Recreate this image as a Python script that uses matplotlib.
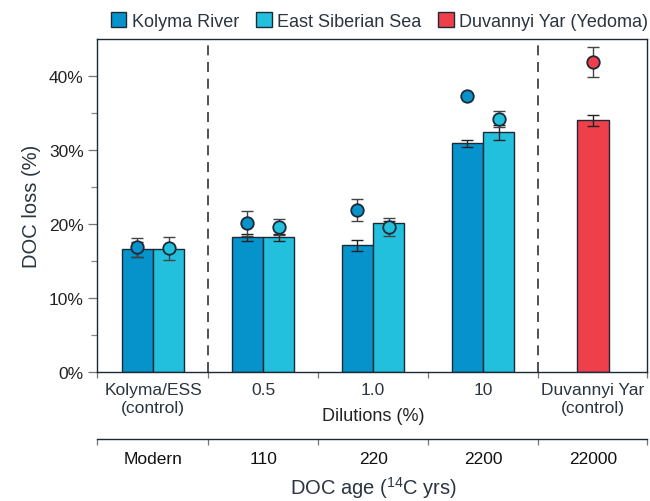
import matplotlib
matplotlib.use("Agg")
import matplotlib.pyplot as plt
from matplotlib.patches import Patch
from matplotlib.ticker import FixedLocator, NullFormatter, FixedFormatter
import numpy as np

plt.rcParams['font.family'] = ['Liberation Sans', 'DejaVu Sans']

groups = ['Kolyma/ESS\n(control)', '0.5', '1.0', '10', 'Duvannyi Yar\n(control)']
ages = ['Modern', '110', '220', '2200', '22000']
series_names = ['Kolyma River', 'East Siberian Sea', 'Duvannyi Yar (Yedoma)']

kolyma_bar = [16.6, 18.2, 17.1, 30.9]
kolyma_bar_err = [1.0, 0.5, 0.8, 0.5]
kolyma_pt = [16.85, 20.1, 21.9, 37.3]
kolyma_pt_err = [1.25, 1.7, 1.5, 0.0]

ess_bar = [16.6, 18.2, 20.1, 32.4]
ess_bar_err = [0.3, 0.5, 0.3, 1.0]
ess_pt = [16.7, 19.6, 19.6, 34.2]
ess_pt_err = [1.6, 1.1, 1.2, 1.1]

yedoma_bar = [34.0]
yedoma_bar_err = [0.75]
yedoma_pt = [41.9]
yedoma_pt_err = [2.05]

c_kol = '#0693CC'
c_ess = '#22C0DD'
c_yed = '#EE3F4A'
edge = '#1c2a36'
txt = '#2a3540'

fig = plt.figure(figsize=(6.5, 5.02), dpi=100)
ax = fig.add_axes([97/650, 1-373/502, 550/650, 333/502])

w = 0.285
xk = np.arange(4) - w/2
xe = np.arange(4) + w/2
xy = np.array([4])

def draw(xs, bars, berr, pts, perr, col):
    ax.bar(xs, bars, width=w, color=col, edgecolor=edge, linewidth=1.0, zorder=2)
    ax.errorbar(xs, bars, yerr=berr, fmt='none', ecolor='#222222', elinewidth=1.0,
                capsize=4.5, capthick=1.0, zorder=3)
    ax.errorbar(xs, pts, yerr=perr, fmt='none', ecolor='#444444', elinewidth=1.0,
                capsize=4.5, capthick=1.0, zorder=4)
    ax.plot(xs, pts, 'o', ms=9, mfc=col, mec=edge, mew=1.3, zorder=5, linestyle='none')

draw(xk, kolyma_bar, kolyma_bar_err, kolyma_pt, kolyma_pt_err, c_kol)
draw(xe, ess_bar, ess_bar_err, ess_pt, ess_pt_err, c_ess)
draw(xy, yedoma_bar, yedoma_bar_err, yedoma_pt, yedoma_pt_err, c_yed)

for xv in (0.5, 3.5):
    ln = ax.axvline(xv, color='#333333', lw=1.2, zorder=1)
    ln.set_dashes([6, 4])

ax.set_xlim(-0.51, 4.49)
ax.set_ylim(0, 45)

for s in ax.spines.values():
    s.set_color(edge)
    s.set_linewidth(1.0)

ax.set_yticks([0, 10, 20, 30, 40])
ax.set_yticklabels(['0%', '10%', '20%', '30%', '40%'])
ax.set_yticks([5, 15, 25, 35], minor=True)
ax.tick_params(axis='y', which='major', length=6.5, width=0.9, color='#777777',
               labelsize=12.5, labelcolor='#222222', pad=3)
ax.tick_params(axis='y', which='minor', length=4, width=0.9, color='#888888')

bounds = [-0.51, 0.5, 1.5, 2.5, 3.5, 4.49]
ax.xaxis.set_major_locator(FixedLocator(bounds))
ax.xaxis.set_major_formatter(NullFormatter())
ax.xaxis.set_minor_locator(FixedLocator(list(range(5))))
ax.xaxis.set_minor_formatter(FixedFormatter(groups))
ax.tick_params(axis='x', which='major', length=4.5, width=0.9, color='#777777')
ax.tick_params(axis='x', which='minor', length=0, labelsize=12.5, labelcolor=txt, pad=7)
for lab in ax.xaxis.get_minorticklabels():
    lab.set_linespacing(1.25)

ax.set_ylabel('DOC loss (%)', fontsize=14.5, color=txt, labelpad=6)

ax.text(2, -0.132, 'Dilutions (%)', transform=ax.get_xaxis_transform(),
        ha='center', va='center', fontsize=13, color='#222222')

sec = ax.secondary_xaxis(-0.201)
sec.xaxis.set_major_locator(FixedLocator(bounds))
sec.xaxis.set_major_formatter(NullFormatter())
sec.xaxis.set_minor_locator(FixedLocator(list(range(5))))
sec.xaxis.set_minor_formatter(FixedFormatter(ages))
sec.tick_params(axis='x', which='major', length=4.5, width=0.9, color='#777777')
sec.tick_params(axis='x', which='minor', length=0, labelsize=12.5, labelcolor='#111111', pad=9)
sec.spines['bottom'].set_color(edge)
sec.spines['bottom'].set_linewidth(1.0)

fig.text(373/650, 1-488/502, 'DOC age ($^{\\mathregular{14}}$C yrs)', ha='center', va='center',
         fontsize=14.5, color=txt)

handles = [Patch(facecolor=c, edgecolor=edge, linewidth=1.0) for c in (c_kol, c_ess, c_yed)]
leg = ax.legend(handles, series_names, loc='center', bbox_to_anchor=(0.514, 1.055),
                ncol=3, frameon=False, fontsize=13, handlelength=0.85, handleheight=0.95,
                handletextpad=0.3, columnspacing=0.95, borderaxespad=0)
for t in leg.get_texts():
    t.set_color(txt)

fig.savefig('out.png', dpi=100)
